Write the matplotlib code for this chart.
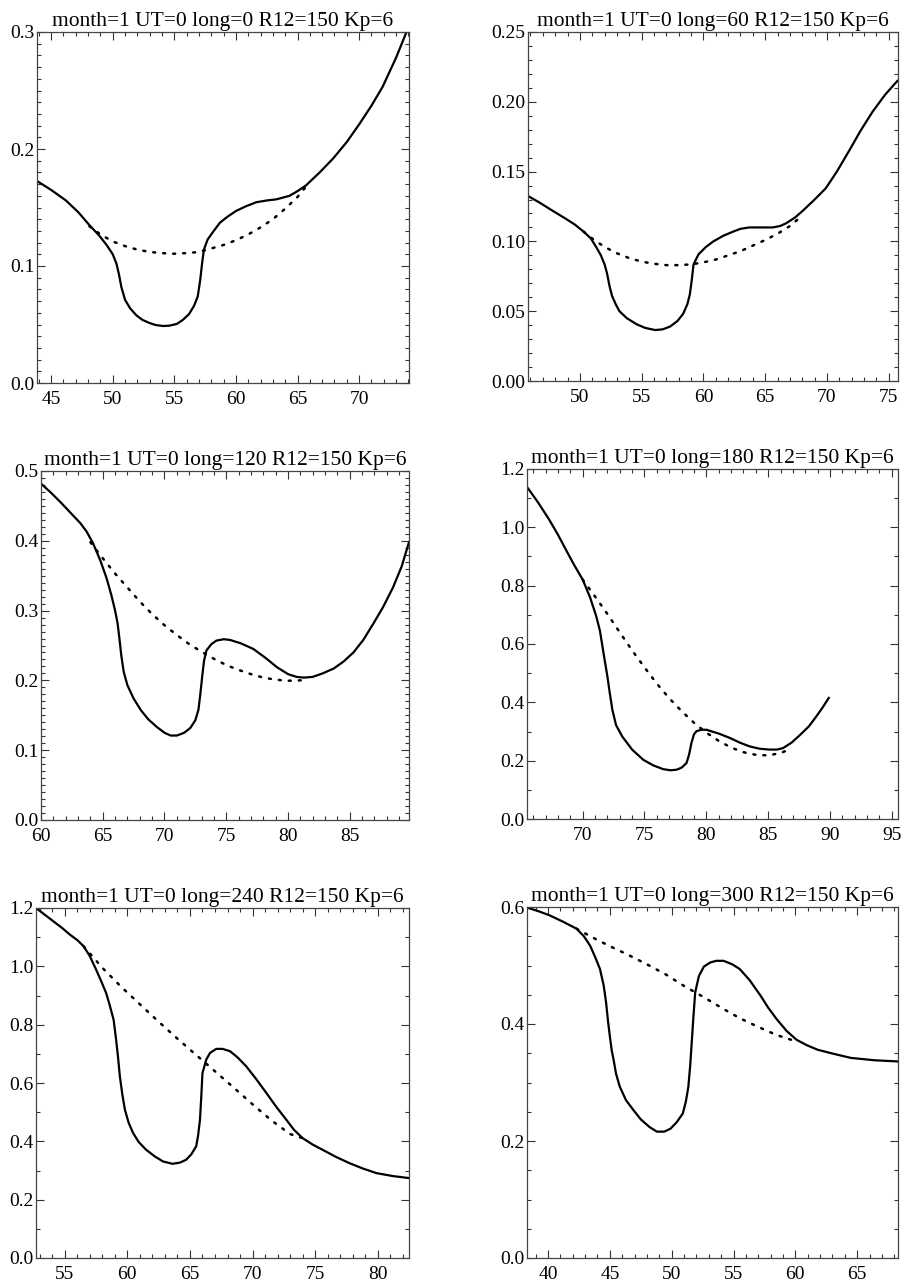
import numpy as np
import matplotlib.pyplot as plt
from matplotlib.ticker import MultipleLocator

plt.rcParams['font.family'] = ['Liberation Serif', 'DejaVu Serif']

TITLES = [
    "month=1 UT=0 long=0 R12=150 Kp=6",
    "month=1 UT=0 long=60 R12=150 Kp=6",
    "month=1 UT=0 long=120 R12=150 Kp=6",
    "month=1 UT=0 long=180 R12=150 Kp=6",
    "month=1 UT=0 long=240 R12=150 Kp=6",
    "month=1 UT=0 long=300 R12=150 Kp=6",
]

# long=0
x0 = [43.8, 45.0, 46.2, 47.2, 48.1, 48.9, 49.5, 50.0, 50.3, 50.5, 50.7, 51.0, 51.4, 51.9, 52.4,
      53.0, 53.5, 54.1, 54.6, 55.2, 55.7, 56.2, 56.6, 56.9, 57.1, 57.25, 57.4, 57.7, 58.2, 58.7,
      59.3, 60.0, 60.8, 61.65, 62.5, 63.3, 64.35, 65.0, 65.7, 66.8, 67.9, 69.0, 70.0, 71.0, 71.9,
      73.0, 74.0]
y0 = [0.173, 0.165, 0.156, 0.146, 0.135, 0.126, 0.118, 0.110, 0.102, 0.093, 0.082, 0.071, 0.064,
      0.058, 0.054, 0.0512, 0.0495, 0.0487, 0.049, 0.0505, 0.054, 0.059, 0.066, 0.074, 0.088,
      0.102, 0.114, 0.1226, 0.130, 0.137, 0.142, 0.147, 0.151, 0.1545, 0.156, 0.157, 0.160, 0.164,
      0.169, 0.180, 0.192, 0.206, 0.221, 0.237, 0.253, 0.278, 0.304]
xd0 = [48.1, 49.0, 50.0, 51.0, 52.0, 53.0, 54.0, 55.0, 56.0, 57.0, 58.0, 59.0, 60.0, 61.0, 62.0,
       63.0, 64.0, 65.0, 65.7]
yd0 = [0.134, 0.127, 0.121, 0.117, 0.114, 0.112, 0.111, 0.1105, 0.111, 0.112, 0.115, 0.118, 0.122,
       0.127, 0.133, 0.140, 0.149, 0.159, 0.168]

# long=60
x1 = [45.8, 46.7, 47.6, 48.9, 49.6, 50.3, 50.9, 51.35, 51.7, 52.0, 52.2, 52.4, 52.6, 52.9, 53.2,
      53.8, 54.6, 55.3, 56.1, 56.7, 57.3, 57.9, 58.35, 58.7, 58.9, 59.05, 59.2, 59.6, 60.2, 60.8,
      61.6, 62.4, 63.0, 63.7, 64.6, 65.6, 66.2, 66.7, 67.4, 68.05, 69.0, 69.9, 70.8, 71.8, 72.7,
      73.7, 74.7, 75.7]
y1 = [0.1325, 0.128, 0.123, 0.116, 0.112, 0.107, 0.102, 0.0955, 0.090, 0.0835, 0.077, 0.068, 0.061,
      0.055, 0.050, 0.045, 0.0406, 0.038, 0.0365, 0.037, 0.039, 0.043, 0.048, 0.055, 0.062, 0.072,
      0.0835, 0.0907, 0.096, 0.100, 0.104, 0.107, 0.109, 0.110, 0.110, 0.110, 0.111, 0.113, 0.117,
      0.122, 0.130, 0.138, 0.150, 0.165, 0.179, 0.193, 0.205, 0.215]
xd1 = [50.3, 51.0, 52.0, 53.0, 54.0, 55.0, 56.0, 57.0, 58.0, 59.0, 60.0, 61.0, 62.0, 63.0, 64.0,
       65.0, 66.0, 67.0, 67.8]
yd1 = [0.107, 0.102, 0.096, 0.0915, 0.088, 0.0855, 0.084, 0.083, 0.083, 0.0835, 0.085, 0.087, 0.090,
       0.093, 0.097, 0.101, 0.1055, 0.111, 0.117]

# long=120
x2 = [60.0, 60.8, 61.6, 62.4, 63.2, 63.7, 64.2, 64.8, 65.3, 65.7, 66.0, 66.2, 66.35, 66.5, 66.7,
      67.0, 67.5, 68.1, 68.7, 69.4, 70.0, 70.5, 71.0, 71.6, 72.1, 72.5, 72.75, 72.9, 73.05, 73.2,
      73.4, 73.8, 74.2, 74.8, 75.3, 76.2, 77.2, 78.2, 79.1, 80.0, 80.7, 81.3, 82.0, 82.8, 83.7,
      84.5, 85.3, 86.1, 86.9, 87.7, 88.5, 89.2, 89.8]
y2 = [0.482, 0.469, 0.455, 0.440, 0.425, 0.413, 0.397, 0.372, 0.347, 0.322, 0.300, 0.282, 0.260,
      0.236, 0.212, 0.193, 0.174, 0.157, 0.144, 0.133, 0.125, 0.121, 0.121, 0.125, 0.132, 0.143,
      0.158, 0.180, 0.205, 0.228, 0.243, 0.252, 0.257, 0.259, 0.258, 0.253, 0.245, 0.232, 0.219,
      0.209, 0.205, 0.204, 0.205, 0.210, 0.217, 0.227, 0.240, 0.258, 0.281, 0.305, 0.333, 0.363,
      0.398]
xd2 = [64.0, 65.0, 66.0, 67.0, 68.0, 69.0, 70.0, 71.0, 72.0, 73.0, 74.0, 75.0, 76.0, 77.0, 78.0,
       79.0, 80.0, 81.0, 81.5]
yd2 = [0.398, 0.375, 0.353, 0.333, 0.313, 0.295, 0.279, 0.265, 0.252, 0.241, 0.231, 0.222, 0.215,
       0.209, 0.204, 0.201, 0.1995, 0.200, 0.202]

# long=180
x3 = [65.46, 66.4, 67.3, 68.0, 68.65, 69.3, 70.0, 70.6, 71.1, 71.4, 71.6, 71.8, 72.0, 72.2, 72.4,
      72.7, 73.2, 74.0, 74.9, 75.7, 76.5, 77.1, 77.6, 78.0, 78.4, 78.6, 78.8, 79.0, 79.2, 79.6,
      80.0, 81.0, 81.9, 82.7, 83.5, 84.3, 85.1, 85.7, 86.2, 86.9, 87.6, 88.3, 88.9, 89.4, 89.9]
y3 = [1.141, 1.085, 1.026, 0.975, 0.923, 0.872, 0.821, 0.760, 0.695, 0.645, 0.592, 0.540, 0.489,
      0.430, 0.375, 0.322, 0.283, 0.238, 0.203, 0.184, 0.171, 0.167, 0.169, 0.176, 0.192, 0.220,
      0.261, 0.290, 0.301, 0.306, 0.306, 0.293, 0.278, 0.262, 0.249, 0.241, 0.238, 0.238, 0.243,
      0.262, 0.289, 0.318, 0.352, 0.382, 0.415]
xd3 = [70.0, 71.0, 72.0, 73.0, 74.0, 75.0, 76.0, 77.0, 78.0, 79.0, 80.0, 81.0, 82.0, 83.0, 84.0,
       85.0, 86.0, 86.8]
yd3 = [0.821, 0.763, 0.703, 0.640, 0.578, 0.520, 0.464, 0.414, 0.370, 0.330, 0.296, 0.268, 0.245,
       0.229, 0.220, 0.218, 0.226, 0.240]

# long=240
x4 = [52.7, 53.4, 54.1, 54.8, 55.4, 56.0, 56.5, 57.0, 57.5, 57.9, 58.3, 58.6, 58.9, 59.1, 59.25,
      59.4, 59.6, 59.8, 60.1, 60.45, 60.9, 61.5, 62.2, 62.85, 63.6, 64.2, 64.7, 65.1, 65.5, 65.65,
      65.8, 65.9, 66.0, 66.3, 66.6, 67.1, 67.6, 68.2, 68.8, 69.5, 70.3, 71.1, 71.9, 72.7, 73.3,
      74.0, 74.8, 75.6, 76.6, 77.7, 78.8, 79.9, 81.2, 82.5]
y4 = [1.2, 1.177, 1.154, 1.131, 1.109, 1.090, 1.069, 1.035, 0.989, 0.950, 0.909, 0.865, 0.817,
      0.749, 0.690, 0.623, 0.560, 0.509, 0.464, 0.429, 0.398, 0.371, 0.348, 0.331, 0.323, 0.327,
      0.337, 0.355, 0.383, 0.420, 0.474, 0.550, 0.634, 0.680, 0.703, 0.717, 0.717, 0.709, 0.688,
      0.657, 0.613, 0.566, 0.518, 0.474, 0.440, 0.411, 0.389, 0.371, 0.348, 0.326, 0.307, 0.291,
      0.281, 0.274]
xd4 = [56.5, 58.0, 59.5, 61.0, 62.5, 64.0, 65.5, 67.0, 68.5, 70.0, 71.5, 73.0, 74.0]
yd4 = [1.069, 0.995, 0.930, 0.870, 0.810, 0.752, 0.696, 0.640, 0.584, 0.527, 0.472, 0.425, 0.411]

# long=300
x5 = [38.3, 39.2, 40.1, 41.2, 42.3, 42.9, 43.4, 43.8, 44.2, 44.5, 44.7, 44.85, 45.0, 45.15, 45.3,
      45.5, 45.8, 46.3, 46.9, 47.5, 48.2, 48.8, 49.4, 49.9, 50.4, 50.9, 51.15, 51.35, 51.5, 51.6,
      51.75, 51.9, 52.2, 52.6, 53.1, 53.6, 54.2, 54.9, 55.5, 56.3, 57.2, 57.8, 58.5, 59.3, 60.1,
      60.9, 61.8, 63.1, 64.5, 66.4, 68.3]
y5 = [0.599, 0.593, 0.586, 0.575, 0.563, 0.550, 0.534, 0.515, 0.494, 0.466, 0.436, 0.405, 0.379,
      0.355, 0.339, 0.315, 0.293, 0.270, 0.253, 0.237, 0.224, 0.216, 0.216, 0.221, 0.232, 0.247,
      0.268, 0.293, 0.330, 0.362, 0.410, 0.454, 0.482, 0.498, 0.505, 0.508, 0.508, 0.502, 0.494,
      0.475, 0.448, 0.428, 0.408, 0.388, 0.373, 0.364, 0.356, 0.349, 0.342, 0.338, 0.336]
xd5 = [42.3, 43.5, 45.0, 46.5, 48.0, 49.5, 51.0, 52.5, 54.0, 55.5, 57.0, 58.5, 60.1]
yd5 = [0.563, 0.549, 0.533, 0.518, 0.502, 0.485, 0.465, 0.447, 0.428, 0.410, 0.395, 0.381, 0.370]

SOLID = [(x0, y0), (x1, y1), (x2, y2), (x3, y3), (x4, y4), (x5, y5)]
DOTTED = [(xd0, yd0), (xd1, yd1), (xd2, yd2), (xd3, yd3), (xd4, yd4), (xd5, yd5)]

XLIMS = [(43.85, 74.05), (45.8, 75.75), (60.0, 89.8), (65.5, 95.5), (52.7, 82.5), (38.3, 68.3)]
YLIMS = [(0, 0.3), (0, 0.25), (0, 0.5), (0, 1.2), (0, 1.2), (0, 0.6)]
YMAJOR = [0.1, 0.05, 0.1, 0.2, 0.2, 0.2]
YMINOR = [0.01, 0.01, 0.01, 0.1, 0.1, 0.05]
YFMT = ['%.1f', '%.2f', '%.1f', '%.1f', '%.1f', '%.1f']

# axes boxes in pixels: left, top, right, bottom
BOXES = [(37, 32, 409, 383), (528, 32, 898, 381),
         (41, 471, 409, 820), (527, 469, 898, 819),
         (36, 908, 409, 1258), (527, 907, 898, 1258)]

W, H = 903, 1288
fig = plt.figure(figsize=(W / 100, H / 100), dpi=100)

for i in range(6):
    l, t, r, b = BOXES[i]
    ax = fig.add_axes([l / W, (H - b) / H, (r - l) / W, (b - t) / H])
    xs, ys = SOLID[i]
    xd, yd = DOTTED[i]
    ax.plot(xd, yd, color='black', lw=1.8, linestyle=(0, (0.8, 3.2)), dash_capstyle='round')
    ax.plot(xs, ys, color='black', lw=1.6, solid_joinstyle='round')
    ax.set_xlim(*XLIMS[i])
    ax.set_ylim(*YLIMS[i])
    ax.xaxis.set_major_locator(MultipleLocator(5))
    ax.xaxis.set_minor_locator(MultipleLocator(1))
    ax.yaxis.set_major_locator(MultipleLocator(YMAJOR[i]))
    ax.yaxis.set_minor_locator(MultipleLocator(YMINOR[i]))
    ax.yaxis.set_major_formatter(plt.FormatStrFormatter(YFMT[i]))
    ax.tick_params(which='both', direction='in', top=True, right=True, width=0.8, color='#333333')
    ax.tick_params(which='major', length=6, labelsize=14)
    ax.tick_params(which='minor', length=3)
    ax.tick_params(axis='x', pad=6)
    ax.tick_params(axis='y', pad=2)
    for sp in ax.spines.values():
        sp.set_linewidth(0.9)
        sp.set_color('#444444')
    ax.set_title(TITLES[i], fontsize=15.5, pad=4)

plt.savefig('out.png', dpi=100)
